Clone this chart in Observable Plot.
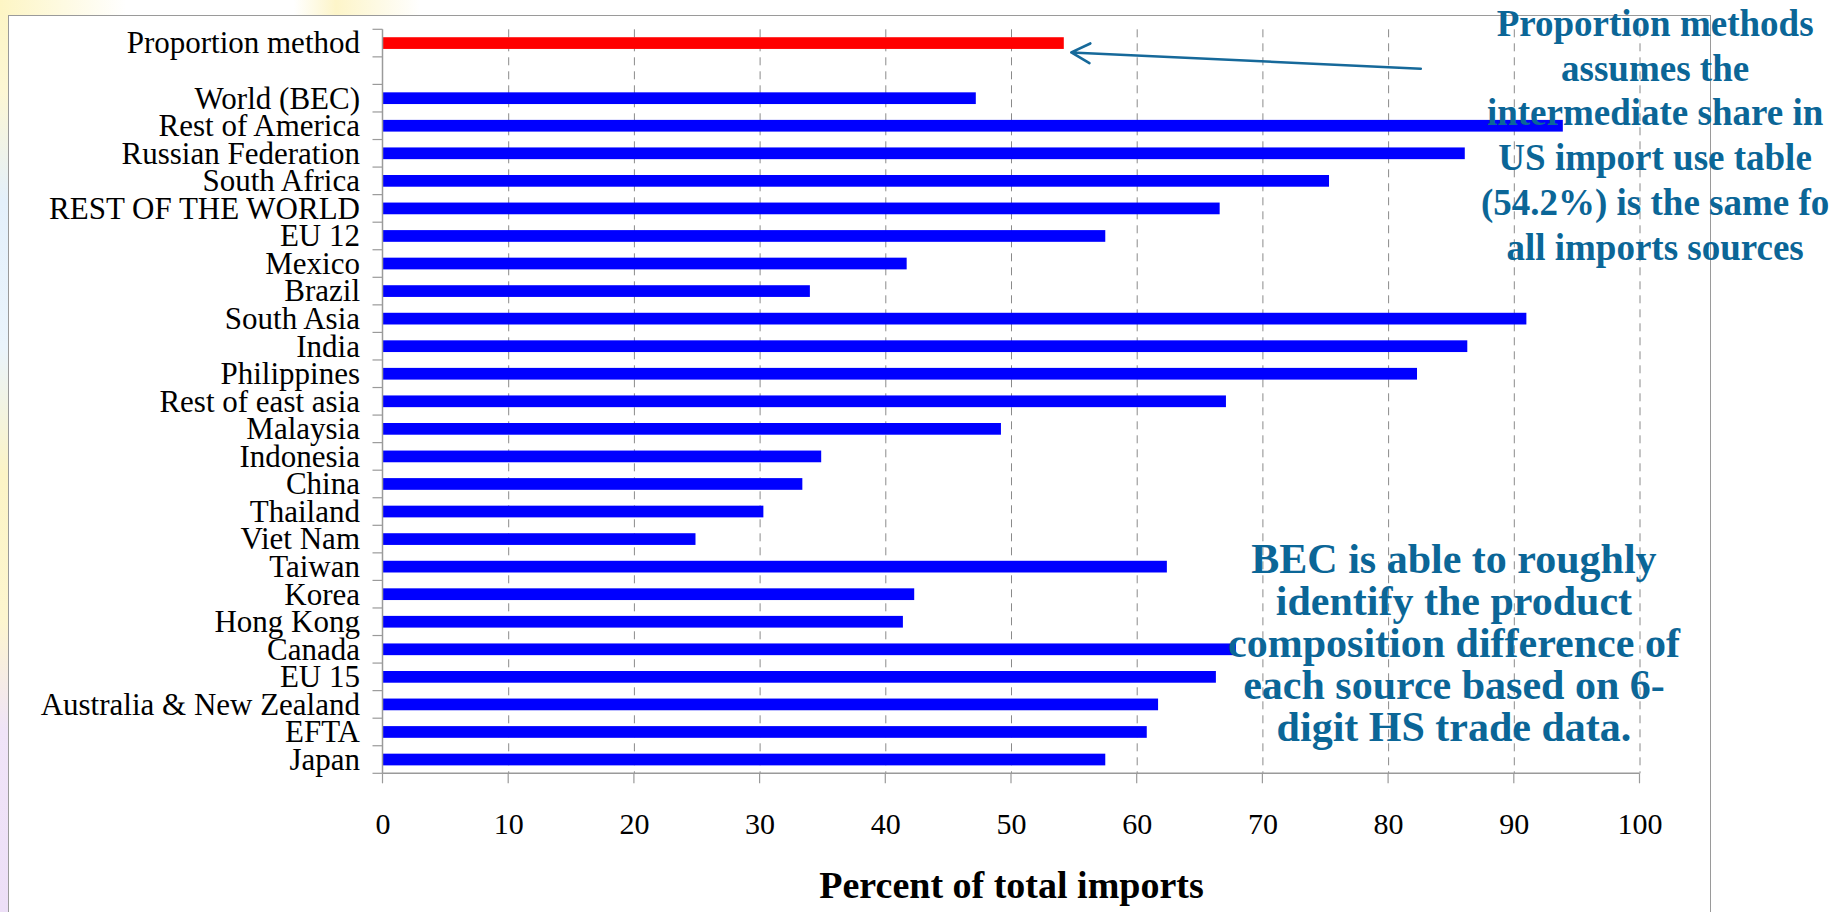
<!DOCTYPE html>
<html>
<head>
<meta charset="utf-8">
<script src="https://cdn.jsdelivr.net/npm/d3@7"></script>
<script src="https://cdn.jsdelivr.net/npm/@observablehq/plot@0.6"></script>
<style>
  html, body { margin: 0; padding: 0; overflow: hidden; background: #ffffff; }
  #wrap { position: relative; width: 1842px; height: 912px; }
  #deco { position: absolute; left: 0; top: 0; width: 8px; height: 912px;
    background: linear-gradient(180deg, #fdf5c4 0%, #fdf7d4 10%, #e4f0fb 22%, #eaf4fc 38%, #fcf4c6 52%, #fdf6cf 68%, #f0e4f8 80%, #eddff7 100%); }
  #decoTop { position: absolute; left: 0; top: 0; width: 420px; height: 15px;
    background: linear-gradient(90deg, #fdf5c4 0%, #ffffff 30%, #ffffff 70%, #fdf5c9 80%, #ffffff 100%); }
  #frame { position: absolute; left: 8px; top: 15px; width: 1703px; height: 1000px;
    border: 1.5px solid #9a9a9a; background: #ffffff; box-sizing: border-box; }
  #chart { position: absolute; left: 0; top: 0; }
  #chart g[aria-label^="y-axis"] { font-size: 31px; }
</style>
</head>
<body>
<div id="wrap">
  <div id="deco"></div>
  <div id="decoTop"></div>
  <div id="frame"></div>
  <div id="chart"></div>
</div>
<script>
// ---- data ----
const topCategory = "Proportion method";
const topValue = 54.2;
const gapCategory = " ";
const sources = [
  "World (BEC)", "Rest of America", "Russian Federation", "South Africa",
  "REST OF THE WORLD", "EU 12", "Mexico", "Brazil", "South Asia", "India",
  "Philippines", "Rest of east asia", "Malaysia", "Indonesia", "China",
  "Thailand", "Viet Nam", "Taiwan", "Korea", "Hong Kong", "Canada", "EU 15",
  "Australia & New Zealand", "EFTA", "Japan"
];
const sourceValues = [
  47.2, 93.9, 86.1, 75.3,
  66.6, 57.5, 41.7, 34.0, 91.0, 86.3,
  82.3, 67.1, 49.2, 34.9, 33.4,
  30.3, 24.9, 62.4, 42.3, 41.4, 67.9, 66.3,
  61.7, 60.8, 57.5
];
const xTicks = [0, 10, 20, 30, 40, 50, 60, 70, 80, 90, 100];
const xTitle = "Percent of total imports";
const noteProportion = [
  "Proportion methods",
  "assumes the",
  "intermediate share in",
  "US import use table",
  "(54.2%) is the same fo",
  "all imports sources"
];
const noteBEC = [
  "BEC is able to roughly",
  "identify the product",
  "composition difference of",
  "each source based on 6-",
  "digit HS trade data."
];
// arrow from the note to the proportion bar (x in percent, y as category + fraction of a row)
const arrowFrom = {x: 82.6, category: gapCategory, shift: -0.07};
const arrowTo = {x: 54.8, category: topCategory, shift: 0.34};

// ---- build ----
const domain = [topCategory, gapCategory, ...sources];
const rows = [{category: topCategory, value: topValue, kind: "proportion"}]
  .concat(sources.map((c, i) => ({category: c, value: sourceValues[i], kind: "bec"})));

const BAR_RED = "#ff0000", BAR_BLUE = "#0000ff";
const NOTE = "#0b6697", AXIS = "#9a9a9a";

function axesAndArrow(index, scales, values, dims) {
  const {x, y} = scales;
  const step = typeof y.step === "function" ? y.step() : y.step;
  const bw = typeof y.bandwidth === "function" ? y.bandwidth() : y.bandwidth;
  const top = dims.marginTop, bottom = dims.height - dims.marginBottom;
  const g = d3.create("svg:g");
  // y-axis line
  g.append("line").attr("x1", x(0)).attr("x2", x(0)).attr("y1", top).attr("y2", bottom)
    .attr("stroke", AXIS).attr("stroke-width", 1.5);
  // x-axis line
  g.append("line").attr("x1", x(0)).attr("x2", x(100)).attr("y1", bottom).attr("y2", bottom)
    .attr("stroke", AXIS).attr("stroke-width", 1.5);
  // category boundary ticks
  const bounds = domain.map(d => y(d) + bw / 2 - step / 2);
  bounds.push(y(domain[domain.length - 1]) + bw / 2 + step / 2);
  for (const b of bounds) {
    g.append("line").attr("x1", x(0) - 10).attr("x2", x(0)).attr("y1", b).attr("y2", b)
      .attr("stroke", AXIS).attr("stroke-width", 1.2);
  }
  // x ticks
  for (const t of xTicks) {
    g.append("line").attr("x1", x(t)).attr("x2", x(t)).attr("y1", bottom).attr("y2", bottom + 10)
      .attr("stroke", AXIS).attr("stroke-width", 1.2);
  }
  // arrow
  const fx = x(arrowFrom.x), fy = y(arrowFrom.category) + bw / 2 + arrowFrom.shift * step;
  const tx = x(arrowTo.x), ty = y(arrowTo.category) + bw / 2 + arrowTo.shift * step;
  const ang = Math.atan2(fy - ty, fx - tx), L = 21, th = 28 * Math.PI / 180;
  const w1 = [tx + L * Math.cos(ang + th), ty + L * Math.sin(ang + th)];
  const w2 = [tx + L * Math.cos(ang - th), ty + L * Math.sin(ang - th)];
  g.append("path")
    .attr("d", `M${fx},${fy}L${tx},${ty}M${w1[0]},${w1[1]}L${tx},${ty}L${w2[0]},${w2[1]}`)
    .attr("fill", "none").attr("stroke", "#16699a").attr("stroke-width", 2.6)
    .attr("stroke-linecap", "round").attr("stroke-linejoin", "round");
  return g.node();
}

const chart = Plot.plot({
  width: 1842,
  height: 912,
  marginLeft: 382.5,
  marginRight: 202.5,
  marginTop: 29.3,
  marginBottom: 138.7,
  style: {
    fontFamily: "'Liberation Serif', 'Times New Roman', serif",
    fontSize: "30px",
    color: "#000000",
    background: "transparent",
    overflow: "visible"
  },
  x: {domain: [0, 100], ticks: xTicks, tickSize: 0, tickPadding: 38.4, label: null},
  y: {domain, round: false, paddingInner: 0.575, paddingOuter: 0.2875, tickSize: 0, tickPadding: 23, label: null},
  marks: [
    Plot.ruleX(xTicks.filter(t => t > 0), {stroke: "#8a8a8a", strokeWidth: 1, strokeDasharray: "8,6"}),
    Plot.barX(rows, {
      y: "category", x: "value",
      fill: d => d.kind === "proportion" ? BAR_RED : BAR_BLUE
    }),
    axesAndArrow,
    Plot.text([noteProportion.join("\n")], {
      x: [101.2], frameAnchor: "top", lineAnchor: "top", dy: -25.8,
      fontSize: 37, fontWeight: "bold", lineHeight: 1.21, fill: NOTE, textAnchor: "middle"
    }),
    Plot.text([noteBEC.join("\n")], {
      x: [85.2], frameAnchor: "top", lineAnchor: "top", dy: 513.6,
      fontSize: 42, fontWeight: "bold", lineHeight: 1.0, fill: NOTE, textAnchor: "middle"
    }),
    Plot.text([xTitle], {
      frameAnchor: "bottom", lineAnchor: "bottom", dy: 123.7,
      fontSize: 38, fontWeight: "bold", fill: "#000000"
    })
  ]
});
document.getElementById("chart").appendChild(chart);
</script>
</body>
</html>
